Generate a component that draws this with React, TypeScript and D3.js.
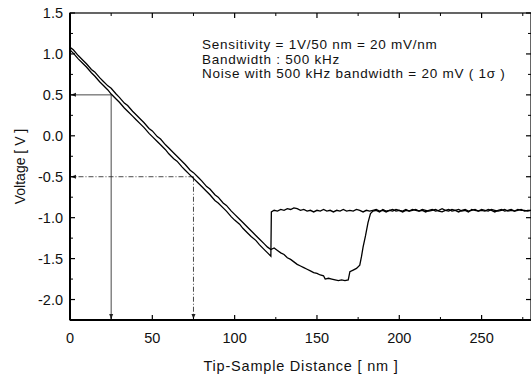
import React from 'react';
import * as d3 from 'd3';

// approach curve: linear slope, then snaps up to the flat level at ~122 nm
const approachSlope: [number, number][] = [
  [0, 1.05], [2, 1.01], [5, 0.94], [8, 0.88], [10, 0.84], [13, 0.77], [15, 0.73], [18, 0.66],
  [20, 0.62], [23, 0.56], [25, 0.51], [28, 0.45], [30, 0.41], [33, 0.34], [35, 0.30], [38, 0.24],
  [40, 0.20], [43, 0.14], [45, 0.10], [48, 0.03], [50, -0.01], [53, -0.07], [55, -0.11], [58, -0.17],
  [60, -0.22], [63, -0.28], [65, -0.31], [68, -0.38], [70, -0.42], [73, -0.48], [75, -0.52],
  [78, -0.58], [80, -0.62], [83, -0.68], [85, -0.72], [88, -0.79], [90, -0.82], [93, -0.88],
  [95, -0.92], [98, -0.99], [100, -1.03], [103, -1.08], [105, -1.13], [108, -1.19], [110, -1.23],
  [113, -1.28], [115, -1.33], [118, -1.39], [120, -1.43], [122, -1.47], [122.3, -0.93],
];

// retract curve: slightly above on the slope, dips to ~-1.77 and returns at ~183 nm
const retractSlope: [number, number][] = [
  [0, 1.08], [2, 1.05], [5, 0.98], [8, 0.92], [10, 0.88], [13, 0.81], [15, 0.78], [18, 0.71],
  [20, 0.67], [23, 0.61], [25, 0.58], [28, 0.51], [30, 0.47], [33, 0.40], [35, 0.37], [38, 0.30],
  [40, 0.26], [43, 0.20], [45, 0.16], [48, 0.09], [50, 0.06], [53, -0.01], [55, -0.04], [58, -0.11],
  [60, -0.15], [63, -0.21], [65, -0.25], [68, -0.31], [70, -0.35], [73, -0.42], [75, -0.45],
  [78, -0.51], [80, -0.55], [83, -0.62], [85, -0.65], [88, -0.72], [90, -0.75], [93, -0.82],
  [95, -0.85], [98, -0.92], [100, -0.96], [103, -1.02], [105, -1.06], [108, -1.12], [110, -1.16],
  [113, -1.22], [115, -1.26], [118, -1.32], [120, -1.36], [122, -1.39], [124, -1.37], [126, -1.40],
  [128, -1.43], [130, -1.45], [132, -1.49], [134, -1.51], [136, -1.54], [138, -1.57], [140, -1.59],
  [142, -1.61], [144, -1.63], [146, -1.65], [148, -1.67], [150, -1.68], [152, -1.70], [154, -1.71],
  [155, -1.75], [157, -1.74], [159, -1.75], [161, -1.76], [163, -1.77], [165, -1.76], [167, -1.77],
  [169, -1.76], [170, -1.66], [172, -1.64], [174, -1.62], [176, -1.58], [177, -1.48], [178, -1.36],
  [179.5, -1.22], [181, -1.06], [182.5, -0.95], [184, -0.92],
];

const flatX = [
  124, 126, 128, 130, 132, 134, 136, 138, 140, 142, 144, 146, 148, 150, 152, 154, 156, 158, 160,
  162, 164, 166, 168, 170, 172, 174, 176, 178, 180, 182, 184, 186, 188, 190, 192, 194, 196, 198,
  200, 202, 204, 206, 208, 210, 212, 214, 216, 218, 220, 222, 224, 226, 228, 230, 232, 234, 236,
  238, 240, 242, 244, 246, 248, 250, 252, 254, 256, 258, 260, 262, 264, 266, 268, 270, 272, 274,
  276, 278, 280,
];
const approachFlatV = [
  -0.91, -0.92, -0.90, -0.91, -0.89, -0.90, -0.88, -0.89, -0.91, -0.90, -0.92, -0.91, -0.93, -0.91,
  -0.92, -0.90, -0.92, -0.91, -0.93, -0.91, -0.92, -0.90, -0.92, -0.91, -0.92, -0.90, -0.91, -0.93,
  -0.91, -0.92, -0.91, -0.90, -0.92, -0.91, -0.93, -0.91, -0.90, -0.92, -0.91, -0.92, -0.90, -0.92,
  -0.91, -0.90, -0.92, -0.91, -0.93, -0.91, -0.90, -0.92, -0.91, -0.89, -0.91, -0.92, -0.90, -0.91,
  -0.93, -0.91, -0.90, -0.92, -0.91, -0.90, -0.92, -0.91, -0.92, -0.90, -0.91, -0.93, -0.91, -0.90,
  -0.92, -0.91, -0.90, -0.92, -0.91, -0.90, -0.92, -0.91, -0.91,
];
// retract flat part starts at 184 nm (index 30 of flatX)
const retractFlatV = [
  -0.92, -0.91, -0.93, -0.90, -0.92, -0.91, -0.92, -0.90, -0.91, -0.93, -0.91, -0.92, -0.90, -0.91,
  -0.92, -0.90, -0.91, -0.92, -0.91, -0.90, -0.92, -0.93, -0.91, -0.90, -0.92, -0.91, -0.90, -0.92,
  -0.91, -0.93, -0.90, -0.91, -0.92, -0.90, -0.91, -0.92, -0.90, -0.91, -0.92, -0.91, -0.90, -0.92,
  -0.91, -0.92, -0.90, -0.91, -0.91, -0.92, -0.91,
];

// guide lines: [distance nm, voltage V]
const guides: { x: number; v: number; dash: string }[] = [
  { x: 25, v: 0.5, dash: '' },
  { x: 75, v: -0.5, dash: '5,2,1,2' },
];

const xTicks = [0, 50, 100, 150, 200, 250];
const xMinor = [25, 75, 125, 175, 225, 275];
const yTicks = [1.5, 1.0, 0.5, 0.0, -0.5, -1.0, -1.5, -2.0];
const yMinor = [1.25, 0.75, 0.25, -0.25, -0.75, -1.25, -1.75, -2.25];

const notes = [
  'Sensitivity = 1V/50 nm = 20 mV/nm',
  'Bandwidth : 500 kHz',
  'Noise with 500 kHz bandwidth = 20 mV ( 1σ )',
];

const W = 531;
const H = 379;
const left = 70;
const right = 531;
const top = 13;
const bottom = 320;

export default function App() {
  const x = d3.scaleLinear().domain([0, 280]).range([left, right]);
  const y = d3.scaleLinear().domain([-2.25, 1.5]).range([bottom, top]);
  const line = d3
    .line<[number, number]>()
    .x((d) => x(d[0]))
    .y((d) => y(d[1]));

  const approach: [number, number][] = [
    ...approachSlope,
    ...flatX.map((fx, i) => [fx, approachFlatV[i]] as [number, number]),
  ];
  const retract: [number, number][] = [
    ...retractSlope,
    ...flatX.slice(30).map((fx, i) => [fx, retractFlatV[i]] as [number, number]),
  ];

  const font = 'Arial, "Liberation Sans", Helvetica, sans-serif';

  return (
    <svg
      width={W}
      height={H}
      style={{ position: 'absolute', left: 0, top: 0, background: '#fff' }}
      fontFamily={font}
      fill="#111"
    >
      <defs>
        <marker id="arr" viewBox="0 0 10 10" refX="10" refY="5" markerWidth="6" markerHeight="6" orient="auto">
          <path d="M0,1 L10,5 L0,9 Z" fill="#222" />
        </marker>
      </defs>

      {/* guide lines with arrows */}
      {guides.map((g, i) => (
        <g key={i} stroke="#333" strokeWidth={0.9} fill="none" strokeDasharray={g.dash}>
          <line x1={x(g.x)} y1={y(g.v)} x2={x(0) + 1} y2={y(g.v)} markerEnd="url(#arr)" />
          <line x1={x(g.x)} y1={y(g.v)} x2={x(g.x)} y2={bottom - 1} markerEnd="url(#arr)" />
        </g>
      ))}

      {/* data */}
      <path d={line(retract) || ''} fill="none" stroke="#000" strokeWidth={1.3} />
      <path d={line(approach) || ''} fill="none" stroke="#000" strokeWidth={1.3} />

      {/* frame */}
      <rect x={left} y={top} width={right - left} height={bottom - top} fill="none" stroke="#000" strokeWidth={1.2} />
      <line x1={left} x2={left} y1={top} y2={bottom} stroke="#000" strokeWidth={2} />
      <line x1={left} x2={right} y1={bottom} y2={bottom} stroke="#000" strokeWidth={2} />

      {/* y ticks */}
      {yTicks.map((t) => (
        <g key={'y' + t}>
          <line x1={left} x2={left + 5} y1={y(t)} y2={y(t)} stroke="#000" strokeWidth={1.2} />
          <line x1={right} x2={right - 5} y1={y(t)} y2={y(t)} stroke="#000" strokeWidth={1.2} />
          <text x={left - 7} y={y(t)} dy="0.36em" textAnchor="end" fontSize={14.5}>
            {t.toFixed(1)}
          </text>
        </g>
      ))}
      {yMinor.map((t) => (
        <g key={'ym' + t}>
          <line x1={left} x2={left + 3} y1={y(t)} y2={y(t)} stroke="#000" strokeWidth={1} />
          <line x1={right} x2={right - 3} y1={y(t)} y2={y(t)} stroke="#000" strokeWidth={1} />
        </g>
      ))}

      {/* x ticks */}
      {xTicks.map((t) => (
        <g key={'x' + t}>
          <line x1={x(t)} x2={x(t)} y1={bottom} y2={bottom - 5} stroke="#000" strokeWidth={1.2} />
          <line x1={x(t)} x2={x(t)} y1={top} y2={top + 5} stroke="#000" strokeWidth={1.2} />
          <text x={x(t)} y={343} textAnchor="middle" fontSize={14.5}>
            {t}
          </text>
        </g>
      ))}
      {xMinor.map((t) => (
        <g key={'xm' + t}>
          <line x1={x(t)} x2={x(t)} y1={bottom} y2={bottom - 3} stroke="#000" strokeWidth={1} />
          <line x1={x(t)} x2={x(t)} y1={top} y2={top + 3} stroke="#000" strokeWidth={1} />
        </g>
      ))}

      {/* axis titles */}
      <text x={301} y={371} textAnchor="middle" fontSize={14.5} letterSpacing={0.8}>
        Tip-Sample Distance [ nm ]
      </text>
      <text transform={`translate(25,${(top + bottom) / 2}) rotate(-90)`} textAnchor="middle" fontSize={14}>
        Voltage [ V ]
      </text>

      {/* annotation */}
      {notes.map((n, i) => (
        <text key={i} x={202} y={49 + i * 14.5} fontSize={13.5} letterSpacing={0.75}>
          {n}
        </text>
      ))}
    </svg>
  );
}
